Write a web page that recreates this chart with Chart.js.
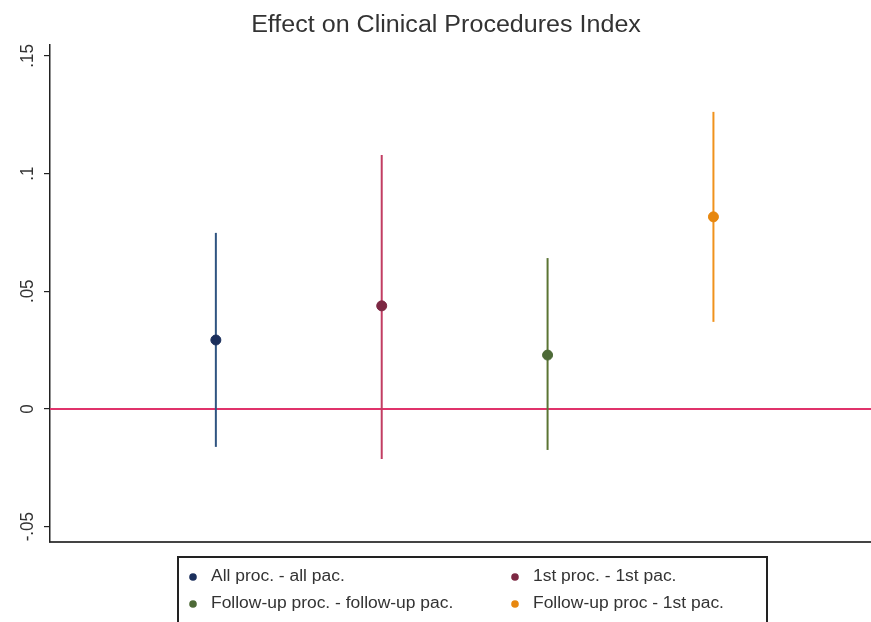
<!DOCTYPE html>
<html>
<head>
<meta charset="utf-8">
<script src="https://cdn.jsdelivr.net/npm/chart.js@4.4.1/dist/chart.umd.min.js"></script>
<style>
  html, body { margin: 0; padding: 0; background: #ffffff; }
  #wrap { width: 871px; height: 622px; }
</style>
</head>
<body>
<div id="wrap"><canvas id="c" width="871" height="622"></canvas></div>
<script>
// Point estimates with 95% confidence bounds, one per specification
const chartTitle = 'Effect on Clinical Procedures Index';
const seriesLabels = [
  'All proc. - all pac.',
  '1st proc. - 1st pac.',
  'Follow-up proc. - follow-up pac.',
  'Follow-up proc - 1st pac.'
];
const positions = [1, 2, 3, 4];
const estimates = [0.0293, 0.0438, 0.0229, 0.0816];
const lowerCI   = [-0.0161, -0.0212, -0.0174, 0.0370];
const upperCI   = [0.0748, 0.1079, 0.0641, 0.1262];

const yTickValues = [-0.05, 0, 0.05, 0.1, 0.15];
const yTickLabels = ['-.05', '0', '.05', '.1', '.15'];

const lineColors   = ['#2f5480', '#c23d62', '#5b7433', '#f0921c'];
const markerColors = ['#1b2f5c', '#7c2843', '#4d6a37', '#e7870f'];
const zeroLineColor = '#e0336b';

const X_MIN = 0, X_MAX = 4.95;
const Y_MIN = -0.0565, Y_MAX = 0.1546;

const datasets = [];
// horizontal reference line at zero
datasets.push({
  type: 'line',
  data: [{x: X_MIN, y: 0}, {x: X_MAX, y: 0}],
  borderColor: zeroLineColor,
  borderWidth: 2,
  pointRadius: 0,
  order: 5
});
// confidence-interval spikes
positions.forEach((p, i) => {
  datasets.push({
    type: 'line',
    data: [{x: p, y: lowerCI[i]}, {x: p, y: upperCI[i]}],
    borderColor: lineColors[i],
    borderWidth: 2,
    pointRadius: 0,
    order: 4
  });
});
// point estimates
positions.forEach((p, i) => {
  datasets.push({
    type: 'scatter',
    label: seriesLabels[i],
    data: [{x: p, y: estimates[i]}],
    backgroundColor: markerColors[i],
    borderColor: markerColors[i],
    pointRadius: 5,
    pointHoverRadius: 5,
    order: 1
  });
});

const FONT = '"Liberation Sans", Arial, sans-serif';
const TEXT_STRETCH = 1.09; // text is set slightly wide

function wideText(ctx, text, x, y, align) {
  ctx.save();
  ctx.translate(x, y);
  ctx.scale(TEXT_STRETCH, 1);
  ctx.textAlign = align;
  ctx.fillText(text, 0, 0);
  ctx.restore();
}

// title, rotated y tick labels and the two-column legend box
const decorations = {
  id: 'decorations',
  afterDraw(chart) {
    const ctx = chart.ctx;
    const y = chart.scales.y;

    ctx.save();
    ctx.fillStyle = '#333333';
    ctx.textBaseline = 'middle';
    ctx.font = '23px ' + FONT;
    wideText(ctx, chartTitle, 446, 26, 'center');

    ctx.font = '17px ' + FONT;
    ctx.textAlign = 'center';
    yTickValues.forEach((v, i) => {
      const py = y.getPixelForValue(v);
      ctx.save();
      ctx.translate(28, py);
      ctx.rotate(-Math.PI / 2);
      ctx.scale(1, TEXT_STRETCH);
      ctx.fillText(yTickLabels[i], 0, 0);
      ctx.restore();
    });
    ctx.restore();

    // legend
    ctx.save();
    ctx.strokeStyle = '#222222';
    ctx.lineWidth = 2;
    ctx.strokeRect(178, 557, 589, 80);
    const cols = [193, 515];
    const rows = [577, 604];
    ctx.font = '16px ' + FONT;
    ctx.textBaseline = 'middle';
    seriesLabels.forEach((lab, i) => {
      const cx = cols[i % 2], cy = rows[Math.floor(i / 2)];
      ctx.fillStyle = markerColors[i];
      ctx.beginPath();
      ctx.arc(cx, cy, 3.8, 0, Math.PI * 2);
      ctx.fill();
      ctx.fillStyle = '#333333';
      wideText(ctx, lab, cx + 18, cy, 'left');
    });
    ctx.restore();
  }
};

new Chart(document.getElementById('c'), {
  data: { datasets },
  options: {
    responsive: false,
    animation: false,
    events: [],
    layout: { autoPadding: false, padding: { left: 0, right: 0, top: 45, bottom: 0 } },
    plugins: {
      legend: { display: false },
      tooltip: { enabled: false },
      title: { display: false }
    },
    scales: {
      x: {
        type: 'linear',
        min: X_MIN,
        max: X_MAX,
        ticks: { display: false },
        grid: { display: false, drawTicks: false },
        border: { display: true, color: '#444444', width: 2 },
        afterFit(scale) { scale.height = 80; }
      },
      y: {
        type: 'linear',
        min: Y_MIN,
        max: Y_MAX,
        afterBuildTicks(scale) {
          scale.ticks = yTickValues.map(v => ({ value: v }));
        },
        ticks: { display: false },
        grid: {
          display: true,
          drawOnChartArea: false,
          drawTicks: true,
          tickLength: 6,
          color: '#222222',
          lineWidth: 1.2
        },
        border: { display: true, color: '#222222', width: 1.5 },
        afterFit(scale) { scale.width = 50; }
      }
    }
  },
  plugins: [decorations]
});
</script>
</body>
</html>
